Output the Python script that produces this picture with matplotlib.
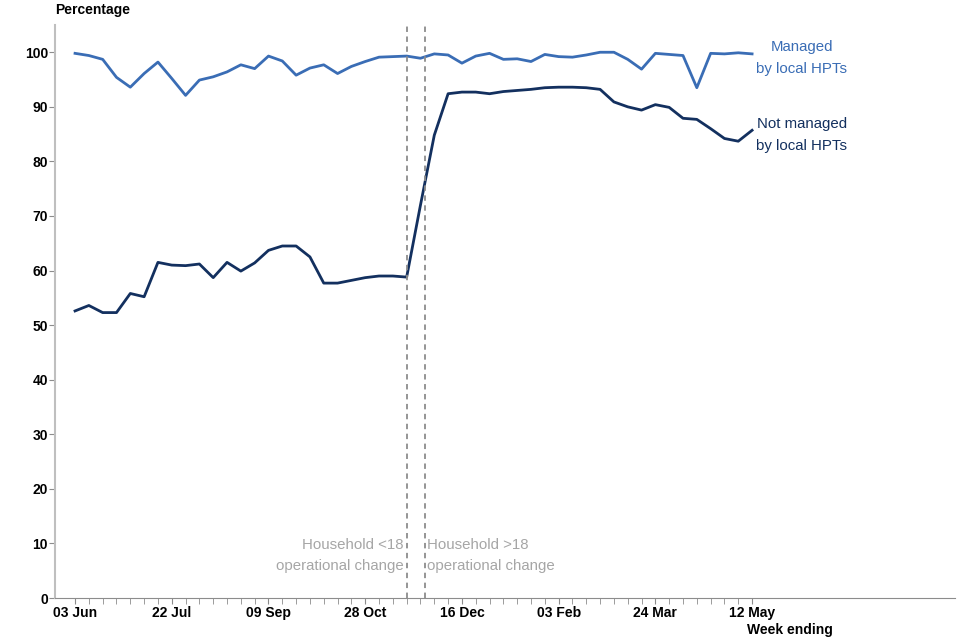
import matplotlib
matplotlib.use('Agg')
import matplotlib.pyplot as plt

plt.rcParams['font.family'] = ['Liberation Sans', 'DejaVu Sans']

# weekly data, week ending 03 Jun .. 12 May
weeks = list(range(50))
tick_weeks = [0, 7, 14, 21, 28, 35, 42, 49]
tick_labels = ["03 Jun", "22 Jul", "09 Sep", "28 Oct", "16 Dec", "03 Feb", "24 Mar", "12 May"]

managed = [99.8, 99.4, 98.7, 95.4, 93.6, 96.1, 98.2, 95.2, 92.1, 94.9,
           95.5, 96.4, 97.7, 97.0, 99.3, 98.4, 95.8, 97.1, 97.7, 96.1,
           97.4, 98.3, 99.1, 99.2, 99.3, 98.9, 99.7, 99.5, 98.0, 99.3,
           99.8, 98.7, 98.8, 98.3, 99.6, 99.2, 99.1, 99.5, 100.0, 100.0,
           98.7, 96.9, 99.8, 99.6, 99.4, 93.5, 99.8, 99.7, 99.9, 99.7]
not_managed = [52.6, 53.6, 52.3, 52.3, 55.8, 55.2, 61.5, 61.0, 60.9, 61.2,
               58.7, 61.5, 59.9, 61.4, 63.7, 64.5, 64.5, 62.5, 57.7, 57.7,
               58.2, 58.7, 59.0, 59.0, 58.8, 72.0, 84.8, 92.4, 92.7, 92.7,
               92.4, 92.8, 93.0, 93.2, 93.5, 93.6, 93.6, 93.5, 93.2, 90.9,
               90.0, 89.4, 90.4, 89.9, 87.9, 87.7, 86.0, 84.2, 83.7, 85.7]

# operational change positions (in weeks)
changes = [24, 25.3]

blue = '#3a6db5'
navy = '#13305f'
grey_txt = '#a6a6a6'

fig = plt.figure(figsize=(9.6, 6.4), dpi=100)
ax = fig.add_axes([0.0573, 0.0656, 0.9377, 0.8954])

ax.plot(weeks, managed, color=blue, linewidth=2)
ax.plot(weeks, not_managed, color=navy, linewidth=2)

for c in changes:
    ax.axvline(c, color='#8c8c8c', linewidth=1.3, linestyle=(0, (3, 2.5)))

ax.set_xlim(-1.45, 63.7)
ax.set_ylim(0, 105)

ax.set_yticks(range(0, 101, 10))
ax.set_xticks(weeks, minor=True)
ax.set_xticks(tick_weeks)
ax.set_xticklabels(tick_labels)
ax.tick_params(axis='both', which='both', length=4, color='#8c8c8c',
               labelsize=10)
ax.tick_params(axis='y', pad=1)
ax.tick_params(axis='x', which='both', pad=2)
for lab in ax.get_xticklabels() + ax.get_yticklabels():
    lab.set_fontweight('bold')

for s in ['top', 'right']:
    ax.spines[s].set_visible(False)
ax.spines['left'].set_color('#bfbfbf')
ax.spines['left'].set_linewidth(1.5)
ax.spines['bottom'].set_color('#8c8c8c')

# axis titles
fig.text(55 / 960, 1 - 10 / 640, "Percentage", fontsize=10, fontweight='bold',
         ha='left', va='center')
fig.text(747 / 960, 1 - 630 / 640, "Week ending", fontsize=10, fontweight='bold',
         ha='left', va='center')

# annotations
ax.text(changes[0] - 0.2, 7.8, "Household <18\noperational change", color=grey_txt,
        fontsize=10.8, ha='right', va='center', linespacing=1.7)
ax.text(changes[1] + 0.2, 7.8, "Household >18\noperational change", color=grey_txt,
        fontsize=10.8, ha='left', va='center', linespacing=1.7)

ax.text(52.6, 99.0, "Managed\nby local HPTs", color=blue, fontsize=10.8,
        ha='center', va='center', linespacing=1.75)
ax.text(52.6, 84.8, "Not managed\nby local HPTs", color=navy, fontsize=10.8,
        ha='center', va='center', linespacing=1.75)

fig.savefig('out.png', dpi=100)
